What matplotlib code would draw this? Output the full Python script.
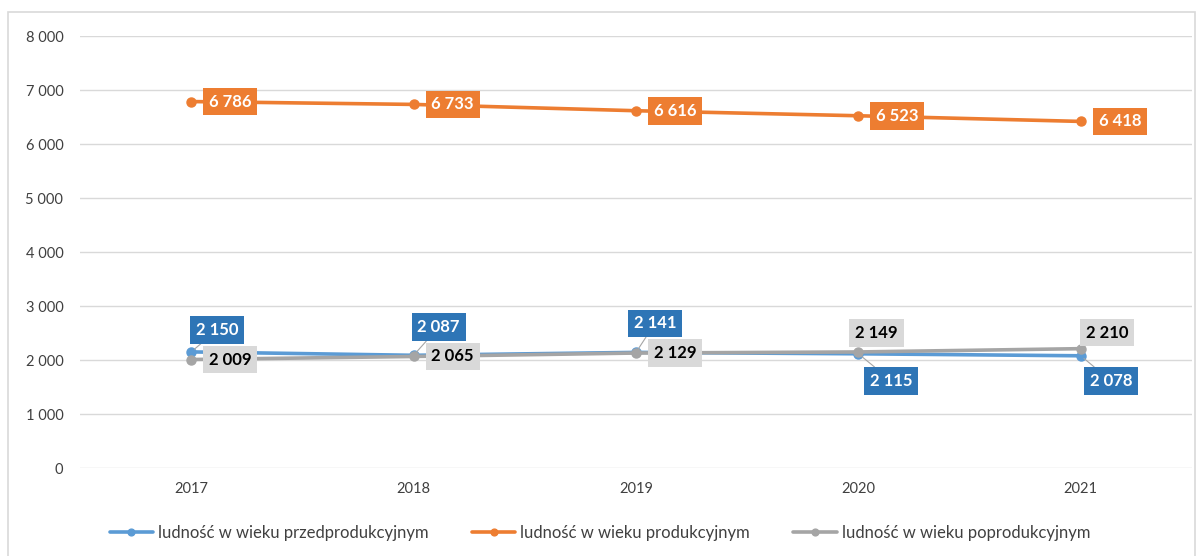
import matplotlib.pyplot as plt
from matplotlib.patches import Rectangle
from matplotlib.ticker import FuncFormatter

plt.rcParams['font.family'] = ['Lato', 'DejaVu Sans']

years = ['2017', '2018', '2019', '2020', '2021']
przed = [2150, 2087, 2141, 2115, 2078]
prod = [6786, 6733, 6616, 6523, 6418]
poprod = [2009, 2065, 2129, 2149, 2210]

names = ['ludność w wieku przedprodukcyjnym',
         'ludność w wieku produkcyjnym',
         'ludność w wieku poprodukcyjnym']

# label offsets in pixels (dx, dy) for each point
off_przed = [(26, 22), (25, 28), (19, 29), (33, -27), (30, -25)]
off_prod = [(39, 0)] * 5
off_poprod = [(39, 0), (39, 0), (39, 0), (18, 19), (26, 16)]

c_blue, c_orange, c_gray = '#5B9BD5', '#ED7D31', '#A5A5A5'

fig = plt.figure(figsize=(12, 5.56), dpi=100)
fig.patches.append(Rectangle((8 / 1200, -0.01), 1187 / 1200, 1 - 12 / 556 + 0.01,
                             transform=fig.transFigure, fill=False,
                             edgecolor='#D9D9D9', lw=1.2))
ax = fig.add_axes([80 / 1200, 1 - 468 / 556, 1112 / 1200, 432 / 556])

x = range(len(years))
series = [
    (przed, c_blue, off_przed, '#2E75B6', 'white'),
    (prod, c_orange, off_prod, '#ED7D31', 'white'),
    (poprod, c_gray, off_poprod, '#D9D9D9', 'black'),
]
for (vals, col, offs, box, tcol), name in zip(series, names):
    ax.plot(x, vals, color=col, lw=2.6, marker='o', ms=6.5, label=name,
            solid_capstyle='round')
for (vals, col, offs, box, tcol) in series:
    for i, v in enumerate(vals):
        dx, dy = offs[i]
        leader = abs(dy) > 20
        ax.annotate(f'{v:,}'.replace(',', ' '), (i, v), xytext=(dx, dy),
                    textcoords='offset pixels', ha='center', va='center',
                    fontsize=12, fontweight='bold', color=tcol,
                    bbox=dict(boxstyle='square,pad=0.35', fc=box, ec='none'),
                    arrowprops=dict(arrowstyle='-', color='#A5A5A5', lw=0.8,
                                    shrinkA=0, shrinkB=3) if leader else None,
                    zorder=5)

ax.set_xlim(-0.5, 4.5)
ax.set_ylim(0, 8000)
ax.set_xticks(list(x))
ax.set_xticklabels(years)
ax.set_yticks(range(0, 8001, 1000))
ax.yaxis.set_major_formatter(FuncFormatter(lambda v, p: f'{int(v):,}'.replace(',', ' ')))
ax.grid(axis='y', color='#D9D9D9', lw=1)
ax.set_axisbelow(True)
for s in ax.spines.values():
    s.set_visible(False)
ax.tick_params(length=0, labelsize=10.5, labelcolor='#404040', pad=12)
ax.tick_params(axis='x', pad=10)

fig.legend(loc='center', bbox_to_anchor=(0.5, 1 - 533 / 556), ncol=3,
           frameon=False, fontsize=12, labelcolor='#404040',
           handlelength=2.6, columnspacing=2.6, handletextpad=0.3,
           markerscale=0.75)

fig.savefig('out.png', dpi=100)
